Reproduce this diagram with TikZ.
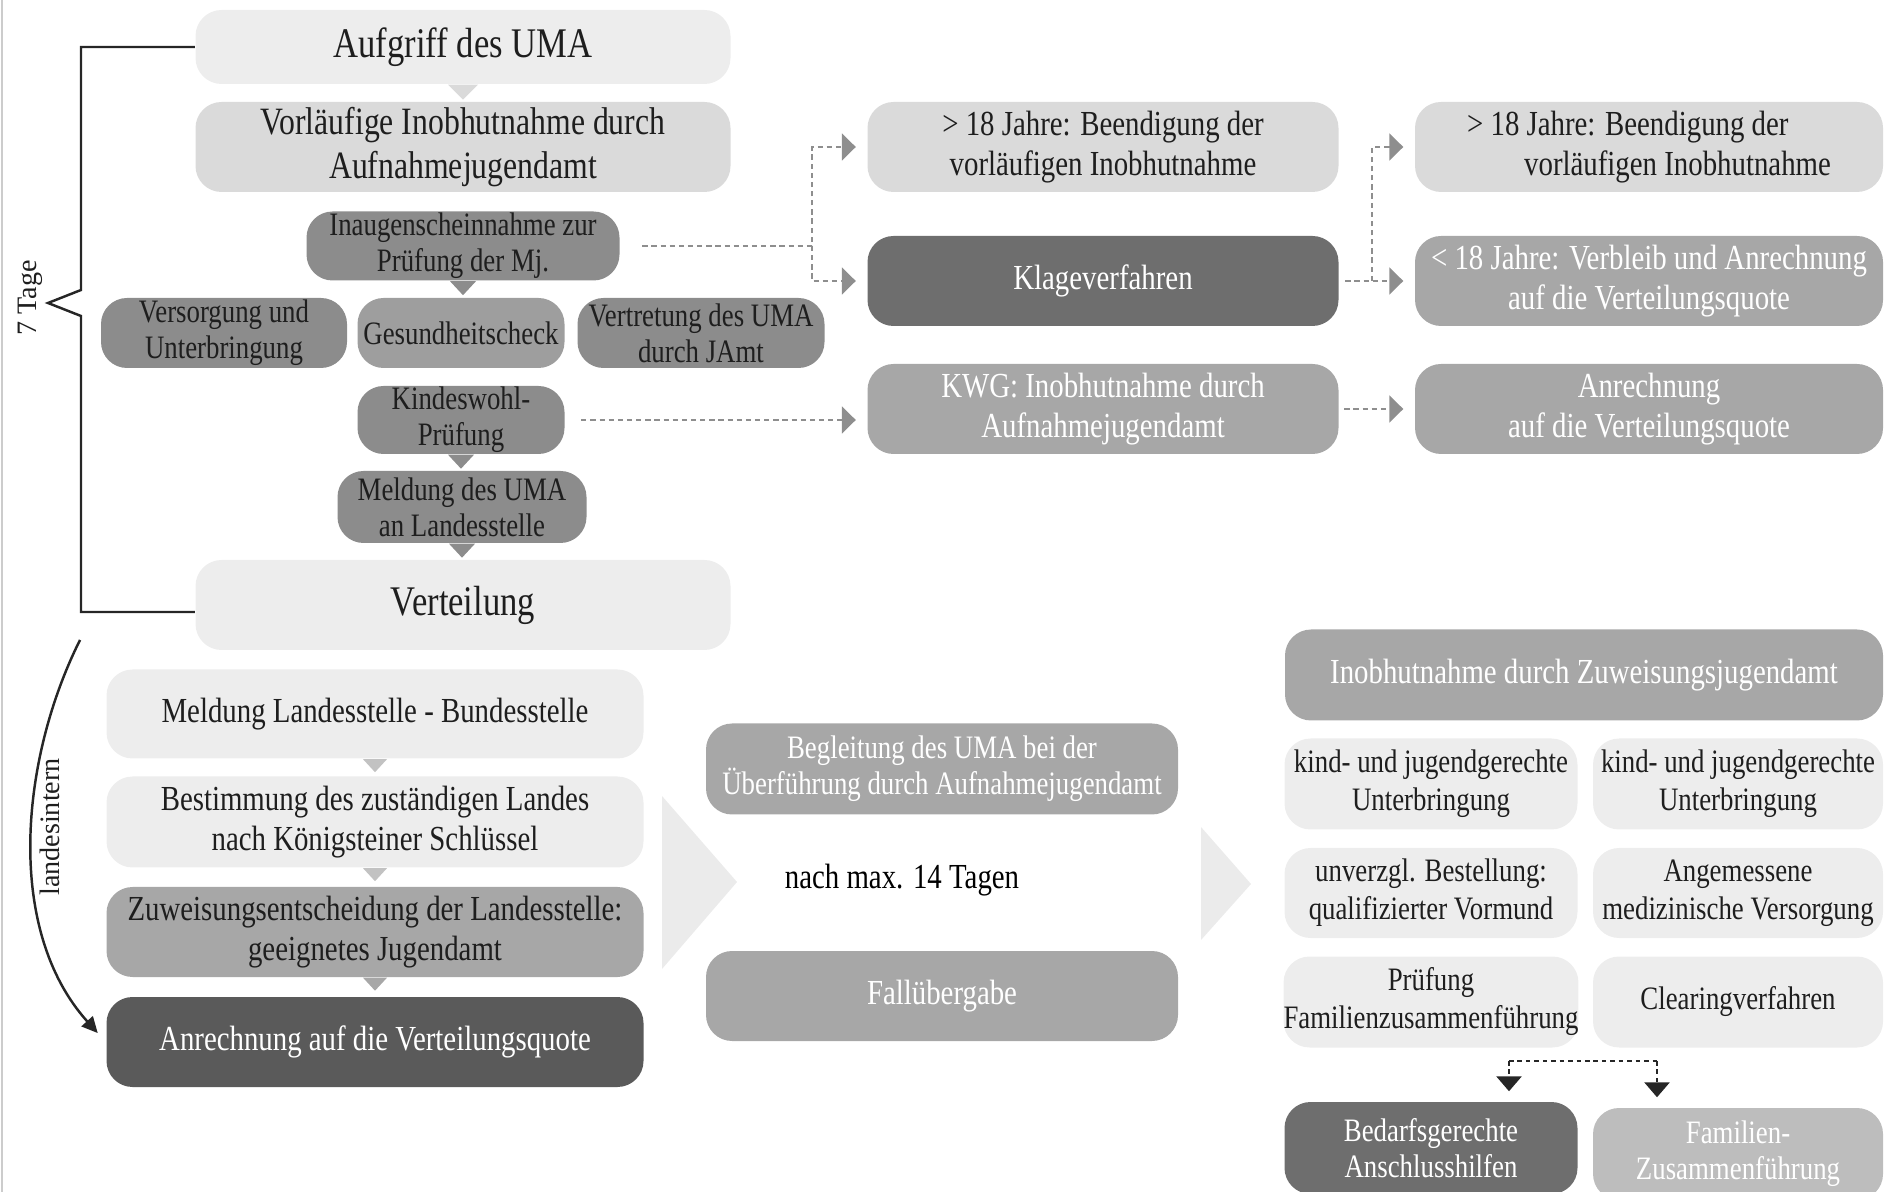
\documentclass[tikz,border=0pt]{standalone}
\usepackage{fontspec}
\setmainfont{Liberation Serif}[FakeStretch=0.82]
\newfontfamily\sidefont{Liberation Serif}
\usetikzlibrary{arrows.meta}

\definecolor{boxpale}{HTML}{EDEDED}
\definecolor{boxlight}{HTML}{DADADA}
\definecolor{boxmid}{HTML}{A7A7A7}
\definecolor{boxsoft}{HTML}{BDBDBD}
\definecolor{boxdark}{HTML}{8C8C8C}
\definecolor{boxgesund}{HTML}{9E9E9E}
\definecolor{boxdeep}{HTML}{6E6E6E}
\definecolor{boxblack}{HTML}{5A5A5A}
\definecolor{textdark}{HTML}{1E1E1E}
\definecolor{linkgray}{HTML}{8E8E8E}
\definecolor{ptgray}{HTML}{C2C2C2}
\definecolor{chevgray}{HTML}{EBEBEB}

\tikzset{
  box/.style={rounded corners=0.26cm, inner sep=0pt, align=center, text=textdark},
  sz/.style 2 args={minimum width=#1*0.01cm, minimum height=#2*0.01cm},
  palebox/.style={box, fill=boxpale},
  lightbox/.style={box, fill=boxlight},
  midbox/.style={box, fill=boxmid, text=white},
  darkbox/.style={box, fill=boxdark},
  deepbox/.style={box, fill=boxdeep, text=white},
  blackbox/.style={box, fill=boxblack, text=white},
  fbig/.style={font=\fontsize{12}{14}\selectfont},
  fvor/.style={font=\fontsize{11}{12.4}\selectfont},
  fmid/.style={font=\fontsize{10}{11.5}\selectfont},
  fgrid/.style={font=\fontsize{9.3}{10.8}\selectfont},
  fsmall/.style={font=\fontsize{9.3}{10.3}\selectfont},
  sidelabel/.style={font=\sidefont\fontsize{8}{9}\selectfont, text=textdark, inner sep=0pt},
  graylink/.style={linkgray, line width=0.6pt, dash pattern=on 1.5pt off 1.1pt,
    -{Triangle[width=0.27cm,length=0.14cm]}, shorten >=0.11cm},
  blacklink/.style={black!85, line width=0.8pt, dash pattern=on 1.3pt off 1.1pt},
  bracket/.style={black!85, line width=0.7pt},
}

\begin{document}
\begin{tikzpicture}[x=0.01cm, y=-0.01cm]
    \useasboundingbox (0,0) rectangle (1885,1192);
    \clip (0,0) rectangle (1885,1192);
    \draw [gray!40, line width=0.6pt] (2,0) -- (2,1192);

    \node [palebox, fbig, sz={535}{74}] (aufgriff) at (463,47) {Aufgriff des UMA};
    \node [lightbox, fvor, sz={535}{90}] (vorlaeufig) at (463,147) {Vorläufige Inobhutnahme durch\\Aufnahmejugendamt};
    \node [darkbox, fsmall, sz={313}{69}] (inaug) at (463,246) {Inaugenscheinnahme zur\\Prüfung der Mj.};
    \node [darkbox, fsmall, sz={246}{70}] (versorgung) at (224,333) {Versorgung und\\Unterbringung};
    \node [darkbox, fill=boxgesund, fsmall, sz={207}{70}] (gesundheit) at (461,333) {Gesundheitscheck};
    \node [darkbox, fsmall, sz={247}{70}] (vertretung) at (701,333) {Vertretung des UMA\\durch JAmt};
    \node [darkbox, fsmall, sz={207}{68}] (kindeswohl) at (461,420) {Kindeswohl-\\Prüfung};
    \node [darkbox, fsmall, sz={249}{72}] (meldunguma) at (462,507) {Meldung des UMA\\an Landesstelle};
    \node [palebox, fbig, sz={535}{90}] (verteilung) at (463,605) {Verteilung};

    \fill [boxpale!92!black] (aufgriff.south) ++(-15,0) -- ++(15,15) -- ++(15,-15) -- cycle;
    \fill [boxdark] (inaug.south) ++(-13,0) -- ++(13,14) -- ++(13,-14) -- cycle;
    \fill [boxdark] (kindeswohl.south) ++(-13,0) -- ++(13,14) -- ++(13,-14) -- cycle;
    \fill [boxdark] (meldunguma.south) ++(-13,0) -- ++(13,14) -- ++(13,-14) -- cycle;

    \draw [bracket] (aufgriff.west) -- (81,47) -- (81,290) -- (48,303) -- (81,316) |- ([yshift=-0.07cm]verteilung.west);
    \node [sidelabel, rotate=90] (siebentage) at (30,298) {7 Tage};

    \node [lightbox, fmid, sz={471}{90}] (ueberA) at (1103,147) {> 18 Jahre: Beendigung der\\vorläufigen Inobhutnahme};
    \node [deepbox, fmid, sz={471}{90}] (klage) at (1103,281) {Klageverfahren};
    \node [midbox, fmid, sz={471}{90}] (kwg) at (1103,409) {KWG: Inobhutnahme durch\\Aufnahmejugendamt};
    \node [lightbox, fmid, sz={468}{90}, align=left] (ueberB) at (1649,147) {> 18 Jahre: Beendigung der\\\hspace*{0.57cm}vorläufigen Inobhutnahme};
    \node [midbox, fmid, sz={468}{90}] (unter18) at (1649,281) {< 18 Jahre: Verbleib und Anrechnung\\auf die Verteilungsquote};
    \node [midbox, fmid, sz={468}{90}] (anrechnungR) at (1649,409) {Anrechnung\\auf die Verteilungsquote};

    \coordinate (jA) at (812,246);
    \coordinate (jB) at (1372,281);
    \draw [graylink, shorten <=0.22cm] (inaug.east) -- (jA) |- (ueberA.west);
    \draw [graylink] (jA) |- (klage.west);
    \draw [graylink, shorten <=0.16cm] (kindeswohl.east) -- (kindeswohl.east -| kwg.west);
    \draw [graylink, shorten <=0.06cm] (klage.east) -- (unter18.west);
    \draw [graylink] (jB) |- (ueberB.west);
    \draw [graylink, shorten <=0.05cm] (kwg.east) -- (anrechnungR.west);

    \node [palebox, fmid, sz={537}{89}] (meldungLB) at (375,714) {Meldung Landesstelle - Bundesstelle};
    \node [palebox, fmid, sz={537}{91}] (bestimmung) at (375,822) {Bestimmung des zuständigen Landes\\nach Königsteiner Schlüssel};
    \node [midbox, text=textdark, fmid, sz={537}{90}] (zuweisung) at (375,932) {Zuweisungsentscheidung der Landesstelle:\\geeignetes Jugendamt};
    \node [blackbox, fmid, sz={537}{90}] (anrechnungL) at (375,1042) {Anrechnung auf die Verteilungsquote};

    \fill [ptgray] (meldungLB.south) ++(-12,0) -- ++(12,13) -- ++(12,-13) -- cycle;
    \fill [ptgray] (bestimmung.south) ++(-12,0) -- ++(12,13) -- ++(12,-13) -- cycle;
    \fill [boxmid] (zuweisung.south) ++(-12,0) -- ++(12,13) -- ++(12,-13) -- cycle;

    \coordinate (lsTop) at (80,640);
    \draw [bracket, -{Triangle[width=0.15cm,length=0.16cm]}, shorten >=0.12cm] (lsTop) .. controls (20,760) and (5,930) .. (anrechnungL.west);
    \node [sidelabel, rotate=90] (landesintern) at (50,827) {landesintern};

    \fill [chevgray] (662,796) -- (737,882) -- (662,969) -- cycle;
    \node [midbox, fsmall, sz={472}{91}] (begleitung) at (942,769) {Begleitung des UMA bei der\\Überführung durch Aufnahmejugendamt};
    \node [fmid, text=black] (nachmax) at (902,880) {nach max. 14 Tagen};
    \node [midbox, fmid, sz={472}{90}] (fallueber) at (942,996) {Fallübergabe};

    \fill [chevgray] (1201,827) -- (1251,884) -- (1201,940) -- cycle;
    \node [midbox, fmid, sz={598}{91}] (inobzuw) at (1584,675) {Inobhutnahme durch Zuweisungsjugendamt};
    \node [palebox, fgrid, sz={293}{91}] (kjL) at (1431,784) {kind- und jugendgerechte\\Unterbringung};
    \node [palebox, fgrid, sz={290}{91}] (kjR) at (1738,784) {kind- und jugendgerechte\\Unterbringung};
    \node [palebox, fgrid, sz={293}{90}] (vormund) at (1431,893) {unverzgl. Bestellung:\\qualifizierter Vormund};
    \node [palebox, fgrid, sz={290}{90}] (medizin) at (1738,893) {Angemessene\\medizinische Versorgung};
    \node [palebox, fgrid, sz={293}{91}] (pruefungFZ) at (1431,1002) {Prüfung\\Familienzusammenführung};
    \node [palebox, fgrid, sz={290}{91}] (clearing) at (1738,1002) {Clearingverfahren};
    \node [deepbox, fsmall, sz={293}{92}] (bedarf) at (1431,1148) {Bedarfsgerechte\\Anschlusshilfen};
    \node [box, fill=boxsoft, text=white, fsmall, sz={290}{92}] (famZ) at (1738,1154) {Familien-\\Zusammenführung};

    \coordinate (fzL) at (1509,1061);
    \coordinate (fzR) at (1657,1061);
    \draw [blacklink] (fzL) -- (fzR);
    \draw [blacklink, -{Triangle[width=0.25cm,length=0.15cm]}, shorten >=0.1cm] (fzL) -- (fzL |- bedarf.north);
    \draw [blacklink, -{Triangle[width=0.25cm,length=0.15cm]}, shorten >=0.1cm] (fzR) -- (fzR |- famZ.north);
\end{tikzpicture}
\end{document}
